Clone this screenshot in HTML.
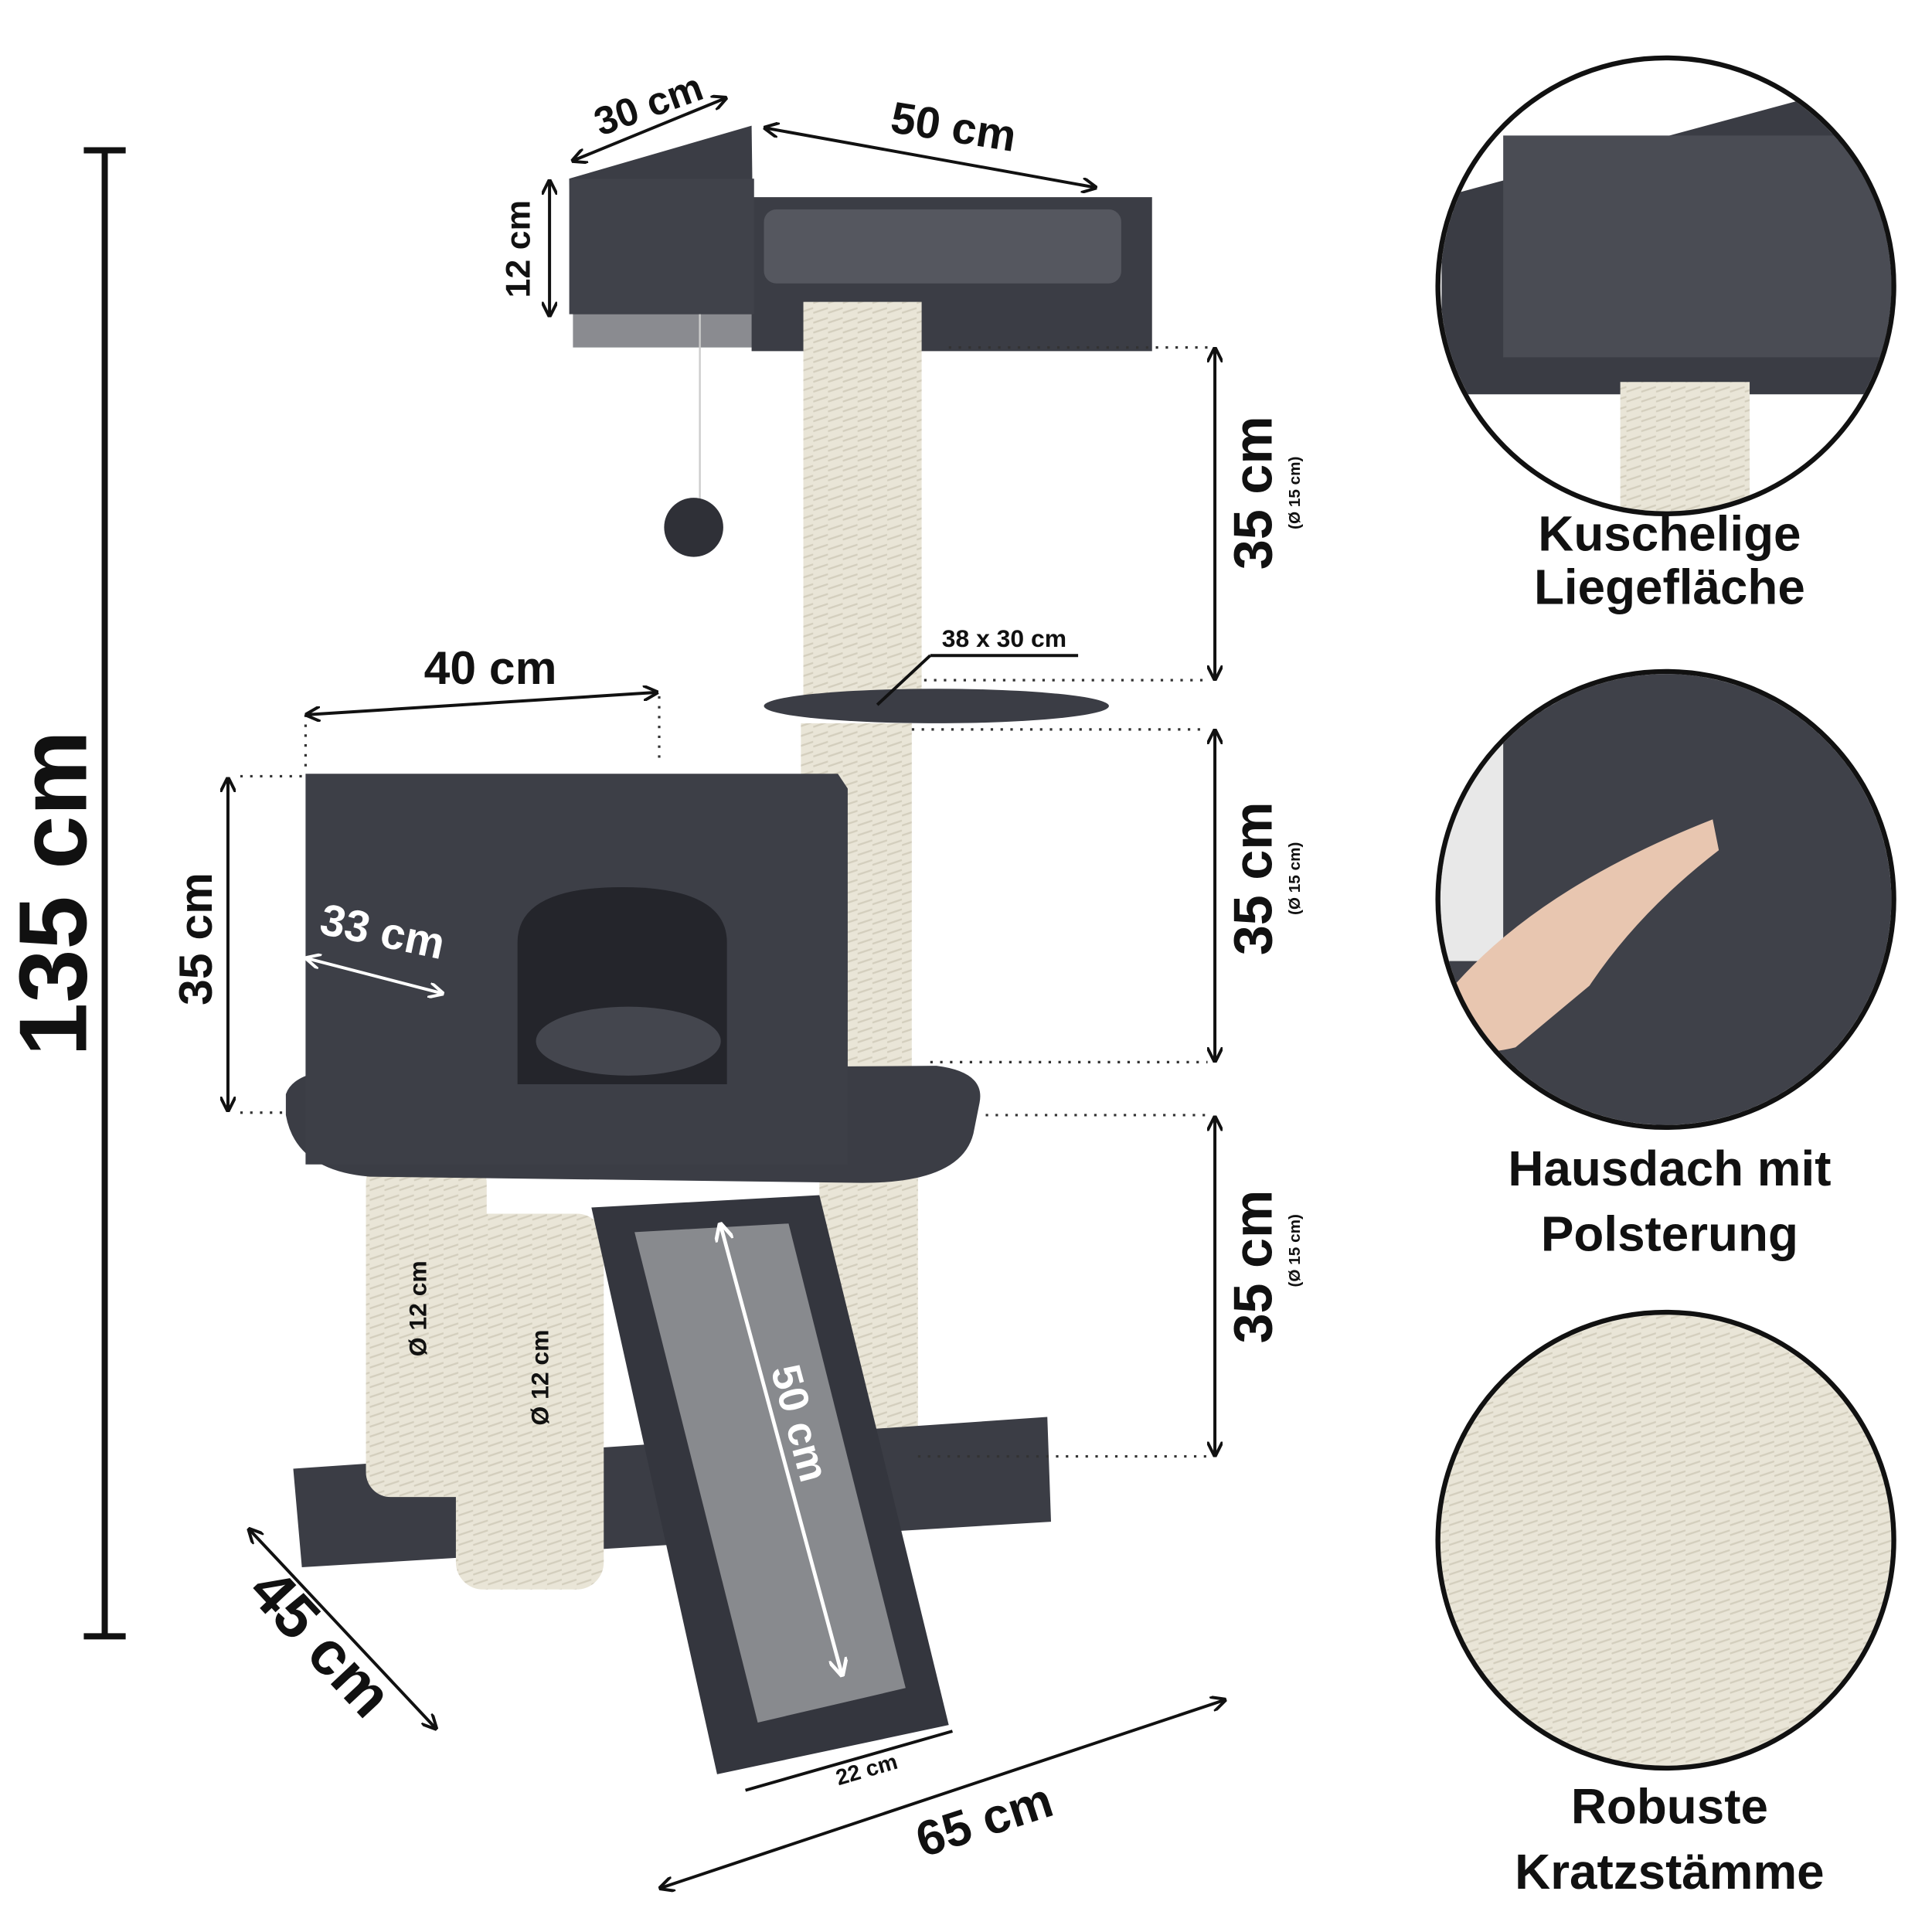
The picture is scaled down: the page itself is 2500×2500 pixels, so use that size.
<!DOCTYPE html>
<html><head><meta charset="utf-8"><style>
html,body{margin:0;padding:0;background:#fff;}
svg{display:block;}
text{font-family:"Liberation Sans",sans-serif;font-weight:bold;fill:#111;}
</style></head><body>
<svg width="2500" height="2500" viewBox="0 0 1568 1568" xmlns="http://www.w3.org/2000/svg">
<defs>
<marker id="a" viewBox="0 0 10 10" refX="8" refY="5" markerWidth="5" markerHeight="5" orient="auto-start-reverse"><path d="M0,0 L10,5 L0,10" fill="none" stroke="#111" stroke-width="2"/></marker>
<marker id="w" viewBox="0 0 10 10" refX="8" refY="5" markerWidth="5" markerHeight="5" orient="auto-start-reverse"><path d="M0,0 L10,5 L0,10" fill="none" stroke="#fff" stroke-width="2"/></marker>
<pattern id="rope" width="12" height="8" patternUnits="userSpaceOnUse"><rect width="12" height="8" fill="#e9e5d7"/><path d="M0,6 L12,2" stroke="#d3cebd" stroke-width="1.5"/></pattern>
<clipPath id="c1"><circle cx="1352" cy="232" r="183"/></clipPath>
<clipPath id="c2"><circle cx="1352" cy="730" r="183"/></clipPath>
<clipPath id="c3"><circle cx="1352" cy="1250" r="183"/></clipPath>
</defs>

<!-- 135 cm bar -->
<line x1="85" y1="122" x2="85" y2="1328" stroke="#111" stroke-width="5"/>
<line x1="68" y1="122" x2="102" y2="122" stroke="#111" stroke-width="5"/>
<line x1="68" y1="1328" x2="102" y2="1328" stroke="#111" stroke-width="5"/>
<text transform="translate(70,725) rotate(-90)" font-size="78" text-anchor="middle">135 cm</text>

<!-- top platform -->
<rect x="465" y="240" width="465" height="42" fill="#8a8b90"/>
<polygon points="610,160 935,160 935,285 610,285" fill="#3b3d45"/>
<rect x="620" y="170" width="290" height="60" rx="10" fill="#55575f"/>
<polygon points="462,145 610,102 612,255 465,255" fill="#3b3d45"/>
<rect x="462" y="145" width="150" height="110" fill="#40424a"/>
<line x1="568" y1="255" x2="568" y2="405" stroke="#ccc" stroke-width="1.5"/>
<circle cx="563" cy="428" r="24" fill="#2f3037"/>
<!-- top post -->
<rect x="652" y="245" width="96" height="320" fill="url(#rope)"/>
<ellipse cx="760" cy="573" rx="140" ry="14" fill="#3b3d45"/>
<rect x="650" y="587" width="90" height="300" fill="url(#rope)"/>
<!-- legs -->
<rect x="665" y="930" width="80" height="250" fill="url(#rope)"/>
<polygon points="238,1192 850,1150 853,1235 245,1272" fill="#3b3d45"/>
<rect x="297" y="940" width="98" height="275" rx="20" fill="url(#rope)"/>
<rect x="370" y="985" width="120" height="305" rx="22" fill="url(#rope)"/>
<!-- mid platform -->
<path d="M232,888 Q240,865 300,868 L760,865 Q800,870 795,895 L790,920 Q780,960 700,960 L300,955 Q240,950 232,905Z" fill="#3b3d45"/>
<!-- house -->
<polygon points="248,628 680,628 688,640 688,945 248,945" fill="#3d3f47"/>
<path d="M420,880 L420,765 Q420,720 505,720 Q590,720 590,765 L590,880Z" fill="#24252b"/>
<ellipse cx="510" cy="845" rx="75" ry="28" fill="#44464e"/>
<!-- ramp -->
<polygon points="480,980 665,970 770,1400 582,1440" fill="#34363e"/>
<polygon points="515,1000 640,993 735,1370 615,1398" fill="#888a8e"/>
<line x1="585" y1="995" x2="683" y2="1358" stroke="#fff" stroke-width="3" marker-start="url(#w)" marker-end="url(#w)"/>
<text transform="translate(638,1158) rotate(75)" font-size="34" fill="#fff" style="fill:#fff" text-anchor="middle">50 cm</text>

<!-- dimensions -->
<line x1="466" y1="130" x2="588" y2="80" stroke="#111" stroke-width="2.5" marker-start="url(#a)" marker-end="url(#a)"/>
<text transform="translate(530,95) rotate(-20)" font-size="32" text-anchor="middle">30 cm</text>
<line x1="622" y1="104" x2="888" y2="152" stroke="#111" stroke-width="2.5" marker-start="url(#a)" marker-end="url(#a)"/>
<text transform="translate(772,115) rotate(9)" font-size="36" text-anchor="middle">50 cm</text>
<line x1="446" y1="148" x2="446" y2="255" stroke="#111" stroke-width="2.5" marker-start="url(#a)" marker-end="url(#a)"/>
<text transform="translate(430,202) rotate(-90)" font-size="28" text-anchor="middle">12 cm</text>

<g stroke="#333" stroke-width="2" stroke-dasharray="2,6">
<line x1="770" y1="282" x2="980" y2="282"/><line x1="750" y1="552" x2="980" y2="552"/>
<line x1="740" y1="592" x2="980" y2="592"/><line x1="755" y1="862" x2="980" y2="862"/>
<line x1="800" y1="905" x2="980" y2="905"/><line x1="745" y1="1182" x2="980" y2="1182"/>
<line x1="195" y1="630" x2="245" y2="630"/><line x1="195" y1="903" x2="235" y2="903"/>
<line x1="248" y1="580" x2="248" y2="628"/><line x1="535" y1="565" x2="535" y2="620"/>
</g>
<g stroke="#111" stroke-width="2.5">
<line x1="986" y1="284" x2="986" y2="550" marker-start="url(#a)" marker-end="url(#a)"/>
<line x1="986" y1="594" x2="986" y2="860" marker-start="url(#a)" marker-end="url(#a)"/>
<line x1="986" y1="908" x2="986" y2="1180" marker-start="url(#a)" marker-end="url(#a)"/>
<line x1="185" y1="633" x2="185" y2="900" marker-start="url(#a)" marker-end="url(#a)"/>
<line x1="250" y1="580" x2="532" y2="562" marker-start="url(#a)" marker-end="url(#a)"/>
<line x1="250" y1="778" x2="358" y2="806" stroke="#fff" marker-start="url(#w)" marker-end="url(#w)"/>
<line x1="203" y1="1242" x2="353" y2="1402" marker-start="url(#a)" marker-end="url(#a)"/>
<line x1="537" y1="1532" x2="993" y2="1380" marker-start="url(#a)" marker-end="url(#a)"/>
<line x1="605" y1="1453" x2="773" y2="1405"/>
<line x1="712" y1="572" x2="755" y2="532"/><line x1="755" y1="532" x2="875" y2="532"/>
</g>
<text transform="translate(1032,400) rotate(-90)" font-size="44" text-anchor="middle">35 cm</text>
<text transform="translate(1032,713) rotate(-90)" font-size="44" text-anchor="middle">35 cm</text>
<text transform="translate(1032,1028) rotate(-90)" font-size="44" text-anchor="middle">35 cm</text>
<text transform="translate(1055,400) rotate(-90)" font-size="13" text-anchor="middle" font-weight="normal">(Ø 15 cm)</text>
<text transform="translate(1055,713) rotate(-90)" font-size="13" text-anchor="middle">(Ø 15 cm)</text>
<text transform="translate(1055,1015) rotate(-90)" font-size="13" text-anchor="middle">(Ø 15 cm)</text>
<text transform="translate(172,762) rotate(-90)" font-size="38" text-anchor="middle">35 cm</text>
<text x="398" y="555" font-size="38" text-anchor="middle">40 cm</text>
<text transform="translate(308,768) rotate(12)" font-size="36" text-anchor="middle" style="fill:#fff">33 cm</text>
<text transform="translate(248,1345) rotate(47)" font-size="50" text-anchor="middle">45 cm</text>
<text transform="translate(803,1490) rotate(-18)" font-size="40" text-anchor="middle">65 cm</text>
<text transform="translate(705,1442) rotate(-16)" font-size="18" text-anchor="middle" font-weight="normal">22 cm</text>
<text x="815" y="525" font-size="20" text-anchor="middle" font-weight="normal">38 x 30 cm</text>
<text transform="translate(346,1062) rotate(-90)" font-size="20" text-anchor="middle">Ø 12 cm</text>
<text transform="translate(445,1118) rotate(-90)" font-size="20" text-anchor="middle">Ø 12 cm</text>

<!-- circles -->
<g clip-path="url(#c1)">
<rect x="1160" y="40" width="390" height="390" fill="#fff"/>
<polygon points="1170,160 1540,60 1540,320 1170,320" fill="#3a3c44"/>
<rect x="1220" y="110" width="320" height="180" fill="#4a4c54"/>
<rect x="1315" y="310" width="105" height="130" fill="url(#rope)"/>
</g>
<circle cx="1352" cy="232" r="185" fill="none" stroke="#111" stroke-width="4"/>
<g clip-path="url(#c2)">
<rect x="1160" y="540" width="390" height="390" fill="#3f4149"/>
<rect x="1160" y="540" width="60" height="240" fill="#e8e8e8"/>
<path d="M1180,800 Q1250,720 1390,665 L1395,690 Q1330,740 1290,800 L1230,850 Q1190,860 1180,840Z" fill="#e8c6b0"/>
</g>
<circle cx="1352" cy="730" r="185" fill="none" stroke="#111" stroke-width="4"/>
<g clip-path="url(#c3)">
<rect x="1160" y="1060" width="390" height="390" fill="url(#rope)"/>
</g>
<circle cx="1352" cy="1250" r="185" fill="none" stroke="#111" stroke-width="4"/>

<text x="1355" y="447" font-size="40" text-anchor="middle">Kuschelige</text>
<text x="1355" y="490" font-size="40" text-anchor="middle">Liegefläche</text>
<text x="1355" y="962" font-size="40" text-anchor="middle">Hausdach mit</text>
<text x="1355" y="1015" font-size="40" text-anchor="middle">Polsterung</text>
<text x="1355" y="1480" font-size="40" text-anchor="middle">Robuste</text>
<text x="1355" y="1533" font-size="40" text-anchor="middle">Kratzstämme</text>
</svg>
</body></html>
